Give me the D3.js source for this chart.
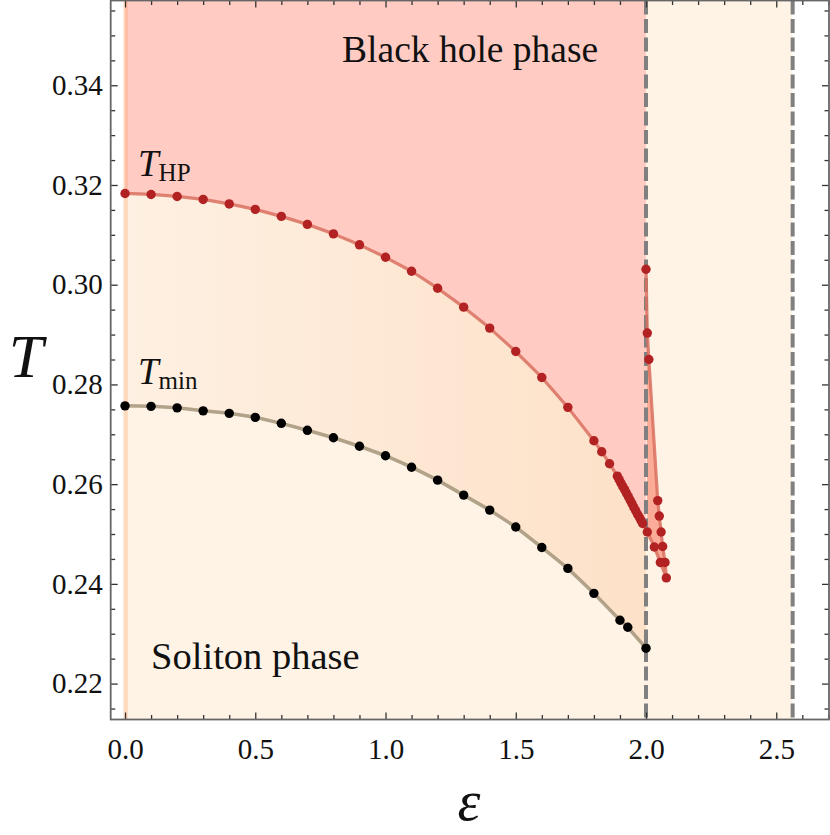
<!DOCTYPE html>
<html lang="en">
<head>
<meta charset="UTF-8">
<title>Phase diagram T vs epsilon</title>
<style>
  body { margin: 0; background: #fff; }
  svg text { font-family: "Liberation Serif", "Times New Roman", Tinos, "DejaVu Serif", "Noto Serif", serif; fill: #111; }
  .tick text { font-size: 29px; }
</style>
</head>
<body>
<svg id="chart" width="830" height="835"></svg>
<script src="https://cdn.jsdelivr.net/npm/d3@7"></script>
<script>
// T_HP curve (red points), main branch
var hpEps = [0, 0.1, 0.2, 0.3, 0.4, 0.5, 0.6, 0.7, 0.8, 0.9, 1.0, 1.1, 1.2, 1.3, 1.4, 1.5, 1.6, 1.7,
             1.8, 1.83, 1.86, 1.89, 1.897, 1.904, 1.911, 1.918, 1.925, 1.932, 1.939, 1.946,
             1.953, 1.96, 1.967, 1.974, 1.98, 1.987];
var hpT = [0.3183, 0.3181, 0.3177, 0.3171, 0.3162, 0.3151, 0.3137, 0.3121, 0.3102, 0.3080, 0.3055,
           0.3027, 0.2993, 0.2955, 0.2913, 0.2866, 0.2814, 0.2754, 0.2687, 0.2665, 0.2641, 0.2616,
           0.2609, 0.2602, 0.2595, 0.2589, 0.2582, 0.2575, 0.2568, 0.2561, 0.2554, 0.2547,
           0.2540, 0.2534, 0.2528, 0.2521];
// branch beyond eps = 2 (lower part, then back up)
var lowEps = [2.005, 2.032, 2.055, 2.078];
var lowT = [0.2504, 0.2474, 0.2443, 0.2412];
var upEps = [2.073, 2.064, 2.058, 2.051, 2.045, 2.011, 2.005, 2.0];
var upT = [0.2443, 0.2475, 0.2504, 0.2536, 0.2567, 0.2850, 0.2903, 0.3031];

// T_min curve (black points)
var minEps = [0, 0.1, 0.2, 0.3, 0.4, 0.5, 0.6, 0.7, 0.8, 0.9, 1.0, 1.1, 1.2, 1.3, 1.4, 1.5, 1.6, 1.7,
              1.8, 1.9, 1.93, 2.0];
var minT = [0.2757, 0.2756, 0.2753, 0.2747, 0.2742, 0.2734, 0.2722, 0.2708, 0.2693, 0.2676, 0.2657,
            0.2634, 0.2608, 0.2578, 0.2548, 0.2514, 0.2473, 0.2431, 0.2381, 0.2327, 0.2313, 0.2271];

var dashedEps = [2.0, 2.563];
var xTicks = [0, 0.5, 1.0, 1.5, 2.0, 2.5];
var yTicks = [0.22, 0.24, 0.26, 0.28, 0.30, 0.32, 0.34];

var serif = "'Liberation Serif', 'Times New Roman', Tinos, 'DejaVu Serif', 'Noto Serif', serif";

var margin = {top: 0.5, left: 110.7},
    width = 718.3,
    height = 719;

var x = d3.scaleLinear().domain([-0.055, 2.7025]).range([0, width]);
var y = d3.scaleLinear().domain([0.2128, 0.357]).range([height, 0]);

var svg = d3.select("#chart");
var defs = svg.append("defs");

var grad = defs.append("linearGradient").attr("id", "band")
  .attr("x1", "0%").attr("x2", "100%").attr("y1", "0%").attr("y2", "0%");
grad.append("stop").attr("offset", "0%").attr("stop-color", "#fef0e2");
grad.append("stop").attr("offset", "100%").attr("stop-color", "#fde1c8");

defs.append("clipPath").attr("id", "leftOf2").append("rect")
  .attr("x", x(0)).attr("y", 0)
  .attr("width", x(dashedEps[0]) - x(0)).attr("height", height);

var chart = svg.append("g")
  .attr("transform", "translate(" + margin.left + "," + margin.top + ")");

var hp = hpEps.map(function(e, i) { return [e, hpT[i]]; });
var low = lowEps.map(function(e, i) { return [e, lowT[i]]; });
var up = upEps.map(function(e, i) { return [e, upT[i]]; });
var tmin = minEps.map(function(e, i) { return [e, minT[i]]; });

var line = d3.line().x(function(d) { return x(d[0]); }).y(function(d) { return y(d[1]); });

// soliton phase background
chart.append("rect")
  .attr("x", x(0) - 1.5)
  .attr("y", 0)
  .attr("width", x(dashedEps[1]) - x(0) + 1.5)
  .attr("height", height)
  .attr("fill", "#fff3e6");

// band between T_min and T_HP
var bandPts = hp.concat([low[0]]).concat(tmin.slice().reverse());
chart.append("path")
  .attr("d", line(bandPts) + "Z")
  .attr("clip-path", "url(#leftOf2)")
  .attr("fill", "url(#band)");

// black hole phase (above T_HP)
var topT = y.domain()[1];
var pinkPts = [[0, topT], [dashedEps[0] + 0.01, topT]].concat([low[0]]).concat(hp.slice().reverse());
chart.append("path")
  .attr("d", line(pinkPts) + "Z")
  .attr("clip-path", "url(#leftOf2)")
  .attr("fill", "#ffcbc3");

// region between the two branches past eps = 2
chart.append("path")
  .attr("d", line(low.concat(up)) + "Z")
  .attr("fill", "#fa9f8b")
  .attr("opacity", 0.85);

// thin strip along eps = 0
chart.append("rect")
  .attr("x", x(-0.006))
  .attr("y", 0)
  .attr("width", x(0.011) - x(-0.006))
  .attr("height", height)
  .attr("fill", "#fb9a5a")
  .attr("opacity", 0.28);

// dashed lines
chart.selectAll(".dash")
  .data(dashedEps).enter()
  .append("line")
  .attr("class", "dash")
  .attr("x1", function(d) { return x(d); })
  .attr("x2", function(d) { return x(d); })
  .attr("y1", 0)
  .attr("y2", height)
  .attr("stroke", "#808080")
  .attr("stroke-width", 4)
  .attr("stroke-dasharray", "14,4.5");

// curves
chart.append("path")
  .attr("d", line(tmin))
  .attr("fill", "none")
  .attr("stroke", "#a8997f")
  .attr("stroke-width", 3.5)
  .attr("stroke-opacity", 0.9);

chart.append("path")
  .attr("d", line(hp.concat(low).concat(up)))
  .attr("fill", "none")
  .attr("stroke", "#d9705f")
  .attr("stroke-width", 3.2)
  .attr("stroke-opacity", 0.85)
  .attr("stroke-linejoin", "round");

chart.selectAll(".pmin")
  .data(tmin).enter()
  .append("circle")
  .attr("class", "pmin")
  .attr("cx", function(d) { return x(d[0]); })
  .attr("cy", function(d) { return y(d[1]); })
  .attr("r", 4.7)
  .attr("fill", "#000");

chart.selectAll(".php")
  .data(hp.concat(low).concat(up)).enter()
  .append("circle")
  .attr("class", "php")
  .attr("cx", function(d) { return x(d[0]); })
  .attr("cy", function(d) { return y(d[1]); })
  .attr("r", 4.7)
  .attr("fill", "#b22222");

// axes with inward ticks on all four sides
var xMinor = d3.range(-0.0, 2.71, 0.1).filter(function(v) { return Math.abs(v * 2 - Math.round(v * 2)) > 1e-6; });
var yMinor = d3.range(0.215, 0.357, 0.005).filter(function(v) { return Math.abs(v * 50 - Math.round(v * 50)) > 1e-6; });

function styleAxis(g) {
  g.attr("font-family", serif);
  g.select(".domain").remove();
  g.selectAll(".tick line").attr("stroke", "#333").attr("stroke-width", 1.3);
}

chart.append("g").attr("transform", "translate(0," + height + ")")
  .call(d3.axisBottom(x).tickValues(xTicks).tickSizeInner(-7).tickSizeOuter(0)
    .tickPadding(19).tickFormat(d3.format(".1f")))
  .call(styleAxis);
chart.append("g").attr("transform", "translate(0," + height + ")")
  .call(d3.axisBottom(x).tickValues(xMinor).tickSizeInner(-4.5).tickSizeOuter(0).tickFormat(""))
  .call(styleAxis);
chart.append("g")
  .call(d3.axisTop(x).tickValues(xTicks).tickSizeInner(-7).tickSizeOuter(0).tickFormat(""))
  .call(styleAxis);
chart.append("g")
  .call(d3.axisTop(x).tickValues(xMinor).tickSizeInner(-4.5).tickSizeOuter(0).tickFormat(""))
  .call(styleAxis);

chart.append("g")
  .call(d3.axisLeft(y).tickValues(yTicks).tickSizeInner(-7).tickSizeOuter(0)
    .tickPadding(8).tickFormat(d3.format(".2f")))
  .call(styleAxis);
chart.append("g")
  .call(d3.axisLeft(y).tickValues(yMinor).tickSizeInner(-4.5).tickSizeOuter(0).tickFormat(""))
  .call(styleAxis);
chart.append("g").attr("transform", "translate(" + width + ",0)")
  .call(d3.axisRight(y).tickValues(yTicks).tickSizeInner(-7).tickSizeOuter(0).tickFormat(""))
  .call(styleAxis);
chart.append("g").attr("transform", "translate(" + width + ",0)")
  .call(d3.axisRight(y).tickValues(yMinor).tickSizeInner(-4.5).tickSizeOuter(0).tickFormat(""))
  .call(styleAxis);

chart.selectAll(".tick text").attr("fill", "#111").attr("font-family", serif);

// frame
chart.append("rect")
  .attr("x", 0).attr("y", 0)
  .attr("width", width).attr("height", height)
  .attr("fill", "none")
  .attr("stroke", "#666")
  .attr("stroke-width", 1.8);

// labels
chart.append("text")
  .attr("x", x(1.325)).attr("y", 61)
  .attr("text-anchor", "middle")
  .attr("font-family", serif)
  .style("font-size", "37.5px")
  .text("Black hole phase");

chart.append("text")
  .attr("x", x(0.1)).attr("y", 668)
  .attr("font-family", serif)
  .style("font-size", "38.5px")
  .text("Soliton phase");

var lblHP = chart.append("text").attr("x", x(0.05)).attr("y", 175)
  .attr("font-family", serif).style("font-size", "37px");
lblHP.append("tspan").style("font-style", "italic").text("T");
lblHP.append("tspan").attr("dy", 5).style("font-size", "25px").text("HP");

var lblMin = chart.append("text").attr("x", x(0.05)).attr("y", 383)
  .attr("font-family", serif).style("font-size", "37px");
lblMin.append("tspan").style("font-style", "italic").text("T");
lblMin.append("tspan").attr("dy", 5).style("font-size", "25px").text("min");

svg.append("text")
  .attr("x", 26).attr("y", 377)
  .attr("text-anchor", "middle")
  .attr("font-family", serif)
  .style("font-size", "62px")
  .style("font-style", "italic")
  .text("T");

svg.append("text")
  .attr("x", margin.left + x(1.32)).attr("y", 820)
  .attr("text-anchor", "middle")
  .attr("font-family", serif)
  .style("font-size", "58px")
  .style("font-style", "italic")
  .text("ε");
</script>
</body>
</html>
